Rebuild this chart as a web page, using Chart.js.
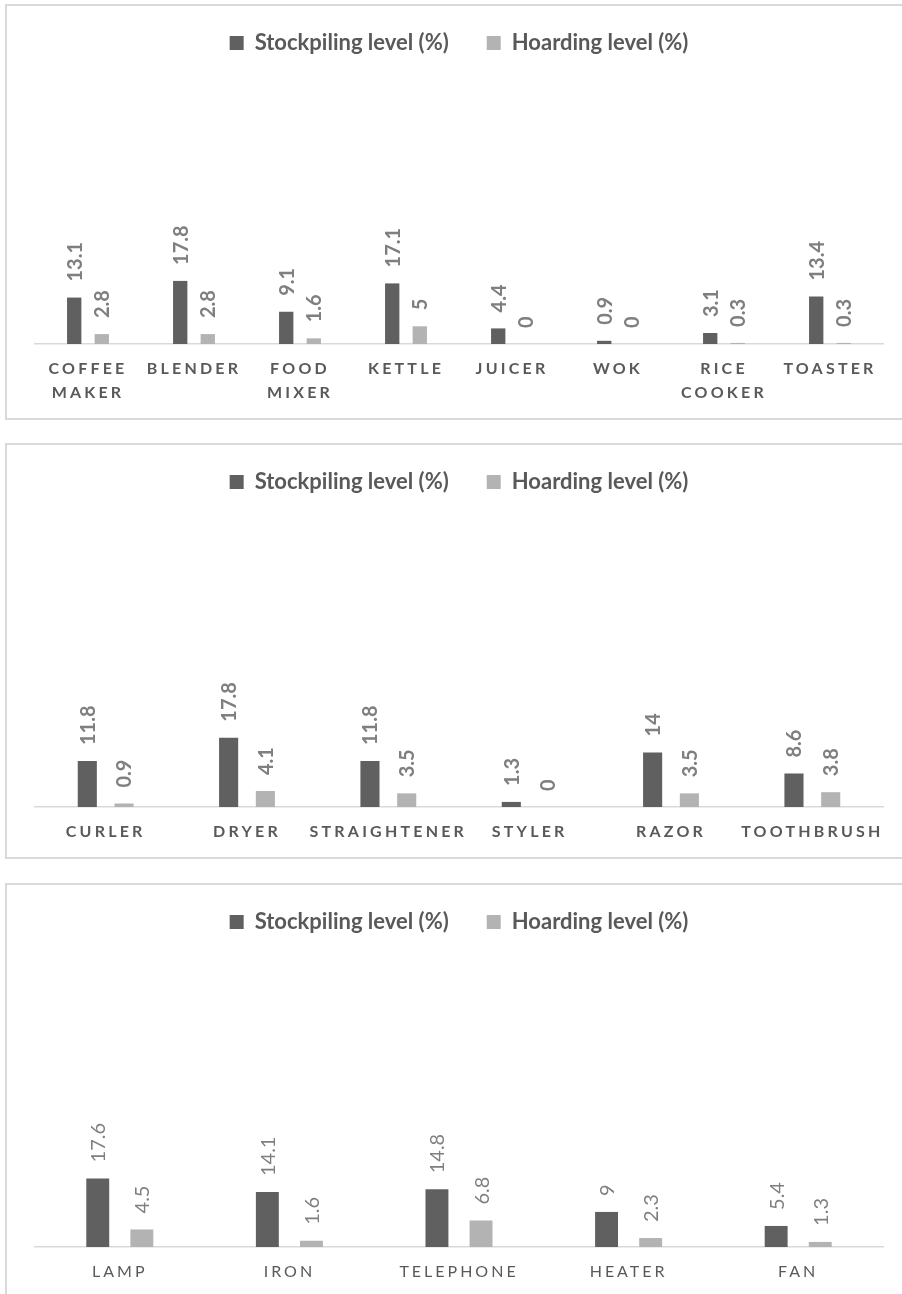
<!DOCTYPE html>
<html>
<head>
<meta charset="utf-8">
<script src="https://cdn.jsdelivr.net/npm/chart.js@4.4.1/dist/chart.umd.min.js"></script>
<style>
  body { margin: 0; background: #fff; overflow: hidden; width: 902px; height: 1294px; position: relative; }
  .box { position: absolute; left: 5px; width: 918px; height: 416px; border: 2px solid #d9d9d9; box-sizing: border-box; background: #fff; }
</style>
</head>
<body>
<div class="box" style="top:4px"><canvas id="kitchen"></canvas></div>
<div class="box" style="top:443px"><canvas id="grooming"></canvas></div>
<div class="box" style="top:883px"><canvas id="household"></canvas></div>
<script>
// chart 1 - kitchen appliances
const kitchenLabels = [['COFFEE', 'MAKER'], 'BLENDER', ['FOOD', 'MIXER'], 'KETTLE', 'JUICER', 'WOK', ['RICE', 'COOKER'], 'TOASTER'];
const kitchenStock = [13.1, 17.8, 9.1, 17.1, 4.4, 0.9, 3.1, 13.4];
const kitchenHoard = [2.8, 2.8, 1.6, 5, 0, 0, 0.3, 0.3];

// chart 2 - personal care
const groomingLabels = ['CURLER', 'DRYER', 'STRAIGHTENER', 'STYLER', 'RAZOR', 'TOOTHBRUSH'];
const groomingStock = [11.8, 17.8, 11.8, 1.3, 14, 8.6];
const groomingHoard = [0.9, 4.1, 3.5, 0, 3.5, 3.8];

// chart 3 - household
const householdLabels = ['LAMP', 'IRON', 'TELEPHONE', 'HEATER', 'FAN'];
const householdStock = [17.6, 14.1, 14.8, 9, 5.4];
const householdHoard = [4.5, 1.6, 6.8, 2.3, 1.3];

const DARK = '#606060';
const LIGHT = '#b3b3b3';
const TEXT = '#595959';

Chart.defaults.font.family = 'Lato, "Open Sans", sans-serif';

// rotated value labels above each bar
const valueLabels = {
  id: 'valueLabels',
  afterDatasetsDraw(chart, args, opts) {
    const ctx = chart.ctx;
    ctx.save();
    ctx.font = opts.font;
    ctx.fillStyle = opts.color;
    ctx.textAlign = 'left';
    ctx.textBaseline = 'middle';
    chart.data.datasets.forEach((ds, di) => {
      chart.getDatasetMeta(di).data.forEach((bar, i) => {
        ctx.save();
        ctx.translate(bar.x + 1, bar.y - 16);
        ctx.rotate(-Math.PI / 2);
        ctx.fillText(String(ds.data[i]), 0, 0);
        ctx.restore();
      });
    });
    ctx.restore();
  }
};

// letter spacing for the category labels
const spacedTicks = {
  id: 'spacedTicks',
  beforeDraw(chart, args, opts) {
    const scale = chart.scales.x;
    if (scale._spaced) return;
    const orig = scale.drawLabels;
    scale.drawLabels = function (area) {
      this.ctx.save();
      this.ctx.letterSpacing = opts.spacing + 'px';
      orig.call(this, area);
      this.ctx.restore();
    };
    scale._spaced = true;
  }
};

function makeChart(id, labels, stock, hoard, yMax, bold) {
  return new Chart(document.getElementById(id), {
    type: 'bar',
    data: {
      labels: labels,
      datasets: [
        { label: 'Stockpiling level (%)', data: stock, backgroundColor: DARK, borderWidth: 0 },
        { label: 'Hoarding level (%)', data: hoard, backgroundColor: LIGHT, borderWidth: 0 }
      ]
    },
    options: {
      responsive: true,
      maintainAspectRatio: false,
      animation: false,
      categoryPercentage: 0.52,
      barPercentage: 0.52,
      layout: { padding: { left: 28, right: 38, top: -12, bottom: 0 } },
      plugins: {
        legend: {
          position: 'top',
          labels: {
            boxWidth: 14,
            boxHeight: 14,
            padding: 38,
            color: TEXT,
            font: { size: 22, weight: 'bold' }
          }
        },
        tooltip: { enabled: false },
        valueLabels: {
          font: (bold ? 'bold ' : '') + '20px Lato, "Open Sans", sans-serif',
          color: '#7f7f7f'
        },
        spacedTicks: { spacing: bold ? 3.2 : 3 }
      },
      scales: {
        x: {
          grid: { display: false, drawTicks: false },
          border: { display: true, color: '#d9d9d9', width: 1.5 },
          ticks: {
            color: TEXT,
            padding: 13,
            maxRotation: 0,
            autoSkip: false,
            font: { size: 16, weight: bold ? 'bold' : 'normal', lineHeight: 1.5 }
          }
        },
        y: { display: false, min: 0, max: yMax }
      }
    },
    plugins: [valueLabels, spacedTicks]
  });
}

makeChart('kitchen', kitchenLabels, kitchenStock, kitchenHoard, 79, true);
makeChart('grooming', groomingLabels, groomingStock, groomingHoard, 78, true);
makeChart('household', householdLabels, householdStock, householdHoard, 78, false);
</script>
</body>
</html>
